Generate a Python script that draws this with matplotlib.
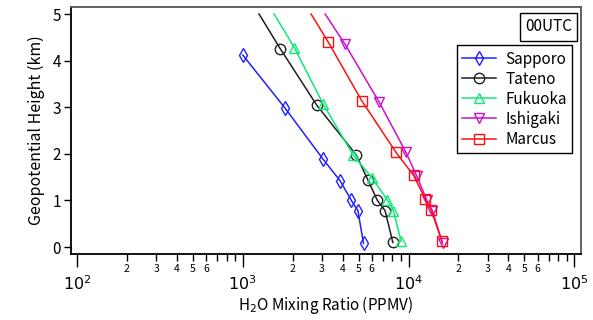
import numpy as np
import matplotlib
matplotlib.use('Agg')
import matplotlib.pyplot as plt
from matplotlib.ticker import FixedLocator, FixedFormatter

plt.rcParams['font.family'] = ['Noto Sans CJK JP', 'DejaVu Sans']

# station profiles: mixing ratio (ppmv) vs geopotential height (km)
stations = ['Sapporo', 'Tateno', 'Fukuoka', 'Ishigaki', 'Marcus']

sapporo_km = [4.12, 2.98, 1.88, 1.42, 1.00, 0.78, 0.08]
sapporo_q = [1000, 1800, 3060, 3870, 4520, 4950, 5350]

tateno_km = [5.0, 4.26, 3.04, 1.98, 1.45, 1.00, 0.78, 0.10]
tateno_q = [1253, 1680, 2800, 4830, 5670, 6490, 7220, 8040]

fukuoka_km = [5.0, 4.28, 3.06, 1.97, 1.49, 1.01, 0.78, 0.12]
fukuoka_q = [1545, 2047, 3063, 4646, 6000, 7460, 8110, 9020]

ishigaki_km = [5.0, 4.35, 3.11, 2.03, 1.52, 1.01, 0.78, 0.08]
ishigaki_q = [3142, 4140, 6650, 9660, 11220, 12880, 13930, 16040]

marcus_km = [5.0, 4.39, 3.14, 2.03, 1.54, 1.04, 0.80, 0.14]
marcus_q = [2582, 3288, 5220, 8410, 10720, 12590, 13680, 15850]

data = [(sapporo_q, sapporo_km, '#2020ff', 'd', None),
        (tateno_q, tateno_km, '#202020', 'o', slice(1, None)),
        (fukuoka_q, fukuoka_km, '#10e878', '^', slice(1, None)),
        (ishigaki_q, ishigaki_km, '#cc10cc', 'v', slice(1, None)),
        (marcus_q, marcus_km, '#ff1010', 's', slice(1, None))]

fig = plt.figure(figsize=(5.93, 3.2), dpi=100)
ax = fig.add_axes([0.119, 0.206, 0.861, 0.772])

for (q, km, c, m, every), name in zip(data, stations):
    ax.plot(q, km, color=c, lw=1.1, marker=m, ms=7.5, mfc='none', mec=c,
            mew=1.0, markevery=every, label=name)

ax.set_xscale('log')
ax.set_xlim(91.4, 110000)
ax.set_ylim(-0.15, 5.15)

ax.set_yticks([0, 1, 2, 3, 4, 5])
ax.tick_params(axis='y', direction='out', length=5, width=1, labelsize=11, pad=2)

ax.xaxis.set_major_locator(FixedLocator([1e2, 1e3, 1e4, 1e5]))
ax.set_xticklabels(['$10^2$', '$10^3$', '$10^4$', '$10^5$'])
minors = []
mlabels = []
for dec in [1e2, 1e3, 1e4]:
    for k in range(2, 10):
        minors.append(k * dec)
        mlabels.append(str(k) if k <= 6 else '')
ax.xaxis.set_minor_locator(FixedLocator(minors))
ax.xaxis.set_minor_formatter(FixedFormatter(mlabels))
ax.tick_params(axis='x', which='major', direction='out', length=9, width=1,
               labelsize=11.5, pad=6)
ax.tick_params(axis='x', which='minor', direction='out', length=5, width=1,
               labelsize=7.5, pad=2)

for s in ax.spines.values():
    s.set_linewidth(1.3)
ax.spines['top'].set_color('#555555')
ax.spines['right'].set_color('#555555')

ax.set_xlabel('H$_2$O Mixing Ratio (PPMV)', fontsize=11, labelpad=0)
ax.set_ylabel('Geopotential Height (km)', fontsize=11.5, labelpad=5)

leg = ax.legend(loc='upper right', bbox_to_anchor=(0.982, 0.845), fontsize=11,
                fancybox=False, edgecolor='black', framealpha=1,
                handlelength=2.2, handletextpad=0.6, labelspacing=0.2,
                borderpad=0.35, borderaxespad=0)
leg.get_frame().set_linewidth(1.0)

ax.text(0.982, 0.955, '00UTC', transform=ax.transAxes, ha='right', va='top',
        fontsize=11,
        bbox=dict(boxstyle='square,pad=0.35', fc='white', ec='black', lw=1.0))

fig.savefig('out.png', dpi=100)
